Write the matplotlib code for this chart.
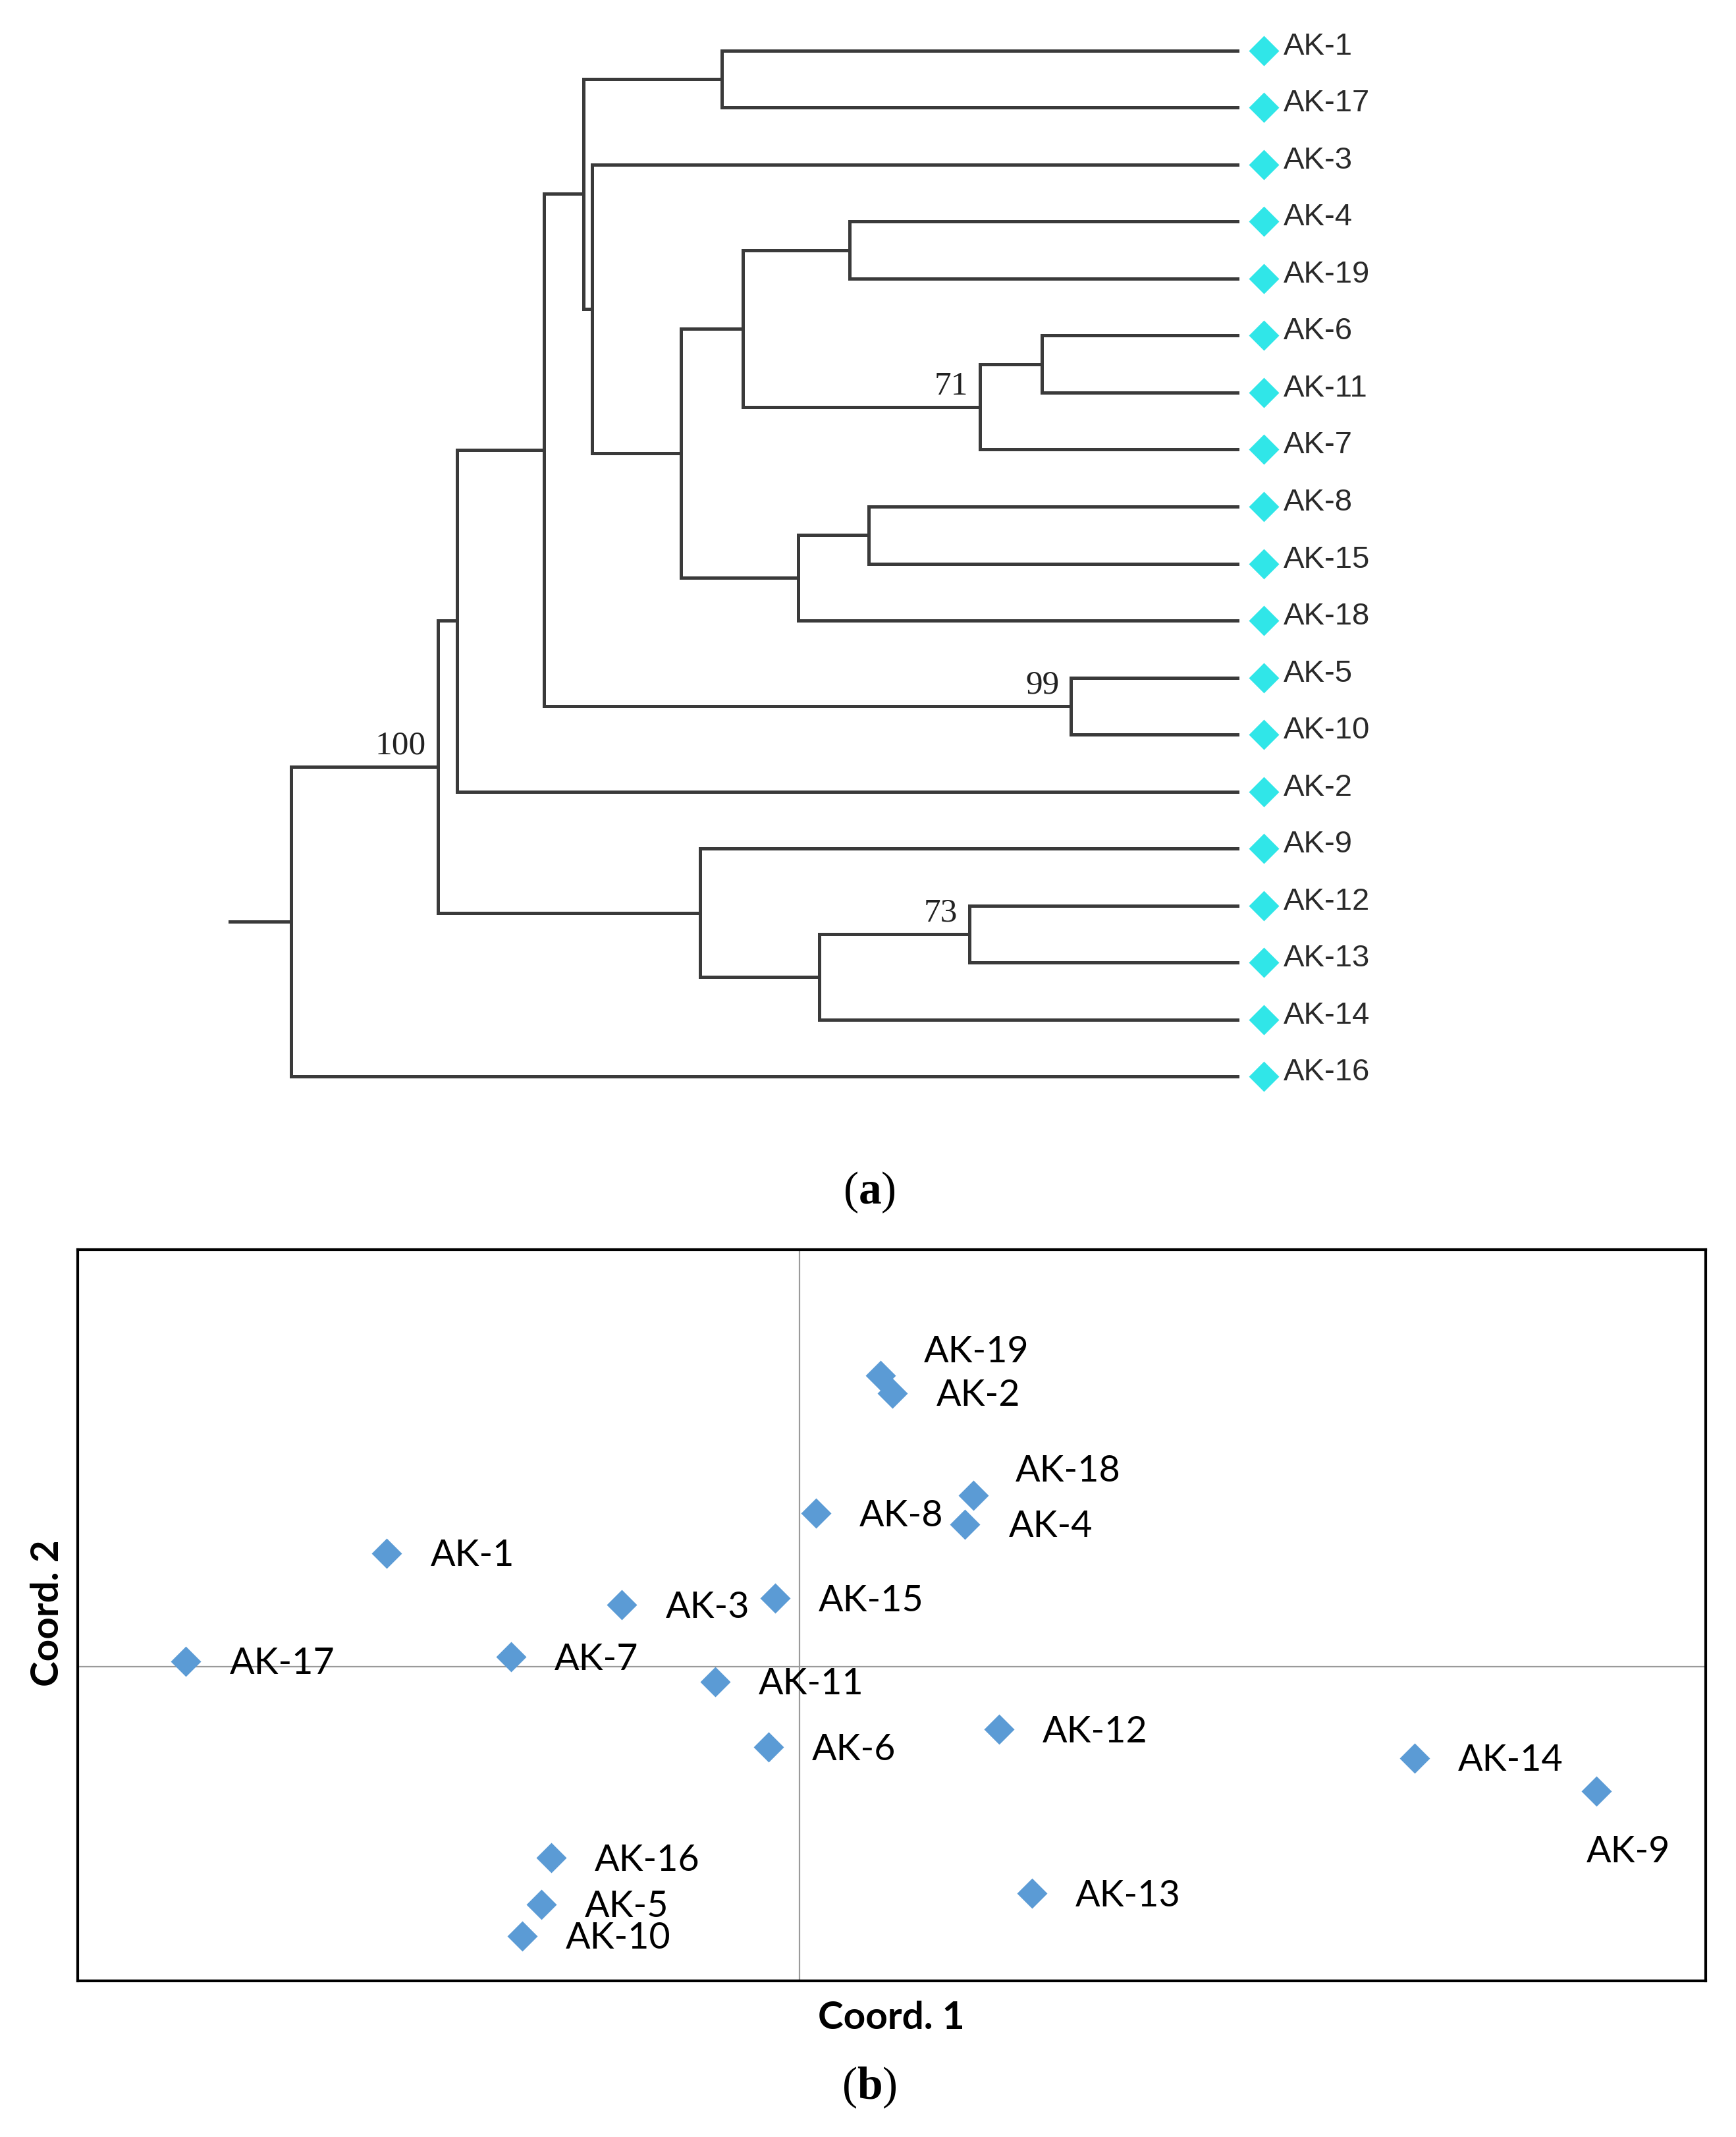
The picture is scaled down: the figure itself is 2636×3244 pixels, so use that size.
import matplotlib
matplotlib.use('Agg')
from matplotlib import pyplot as plt
from matplotlib import transforms

plt.rcParams['mathtext.fontset'] = 'custom'
plt.rcParams['mathtext.rm'] = 'Liberation Serif'
plt.rcParams['mathtext.bf'] = 'Liberation Serif:bold'

# (a) dendrogram: leaf order top to bottom, then internal nodes (depth 0 = root, 1 = tips)
leaves = ['AK-1', 'AK-17', 'AK-3', 'AK-4', 'AK-19', 'AK-6', 'AK-11', 'AK-7', 'AK-8',
          'AK-15', 'AK-18', 'AK-5', 'AK-10', 'AK-2', 'AK-9', 'AK-12', 'AK-13', 'AK-14', 'AK-16']
node_depth = {
    'root': 0.0, 'nA': 0.155, 'nB': 0.175, 'nC': 0.432, 'nD': 0.267, 'nE': 0.309,
    'nF': 0.824, 'nG': 0.455, 'nH': 0.318, 'nI': 0.412, 'nJ': 0.477, 'nK': 0.536,
    'nL': 0.590, 'nM': 0.728, 'nN': 0.793, 'nO': 0.610, 'nP': 0.558, 'nQ': 0.717,
}
node_children = {
    'root': ['nA', 'AK-16'], 'nA': ['nB', 'nC'], 'nB': ['nD', 'AK-2'],
    'nD': ['nE', 'nF'], 'nF': ['AK-5', 'AK-10'], 'nE': ['nG', 'nH'],
    'nG': ['AK-1', 'AK-17'], 'nH': ['AK-3', 'nI'], 'nI': ['nJ', 'nK'],
    'nJ': ['nL', 'nM'], 'nL': ['AK-4', 'AK-19'], 'nM': ['nN', 'AK-7'],
    'nN': ['AK-6', 'AK-11'], 'nK': ['nO', 'AK-18'], 'nO': ['AK-8', 'AK-15'],
    'nC': ['AK-9', 'nP'], 'nP': ['nQ', 'AK-14'], 'nQ': ['AK-12', 'AK-13'],
}
bootstrap = {'nA': 100, 'nM': 71, 'nF': 99, 'nQ': 73}
root_stub = -0.065

# (b) PCoA coordinates
pcoa_names = ['AK-19', 'AK-2', 'AK-18', 'AK-8', 'AK-4', 'AK-1', 'AK-3', 'AK-15', 'AK-17', 'AK-7',
              'AK-11', 'AK-6', 'AK-12', 'AK-14', 'AK-9', 'AK-16', 'AK-5', 'AK-10', 'AK-13']
coord1 = [0.59, 0.68, 1.27, 0.12, 1.21, -3.02, -1.30, -0.18, -4.49, -2.11,
          -0.62, -0.23, 1.46, 4.50, 5.83, -1.82, -1.89, -2.03, 1.70]
coord2 = [2.13, 2.00, 1.25, 1.12, 1.04, 0.83, 0.45, 0.50, 0.04, 0.07,
          -0.11, -0.59, -0.46, -0.67, -0.91, -1.40, -1.74, -1.97, -1.66]

fig = plt.figure(figsize=(26.36, 32.44), dpi=100)

# ---- tree ----
ax = fig.add_axes([0.0, 0.469, 1.0, 0.531])
ax.set_xlim(-0.308, 1.527)
ax.set_ylim(19.02, -0.887)
ax.axis('off')

tree_col = '#3a3a3a'
ypos = {name: i for i, name in enumerate(leaves)}


def node_y(n):
    if n in ypos:
        return ypos[n]
    ys = [node_y(c) for c in node_children[n]]
    ypos[n] = sum(ys) / len(ys)
    return ypos[n]


def depth(n):
    return node_depth.get(n, 1.0)


node_y('root')
for n, kids in node_children.items():
    x = node_depth[n]
    ys = [ypos[c] for c in kids]
    ax.plot([x, x], [min(ys), max(ys)], color=tree_col, lw=3.6, solid_capstyle='projecting')
    for c in kids:
        ax.plot([x, depth(c)], [ypos[c], ypos[c]], color=tree_col, lw=3.6,
                solid_capstyle='projecting')
ax.plot([root_stub, 0.0], [ypos['root'], ypos['root']], color=tree_col, lw=3.6)

for n, val in bootstrap.items():
    ax.annotate(str(val), (node_depth[n], ypos[n]), xytext=(-18, 8),
                textcoords='offset pixels', ha='right', va='bottom',
                fontsize=37, family='Liberation Serif', color='#222222')

tip_x = [1.0] * len(leaves)
tip_y = [ypos[l] for l in leaves]
mk_trans = transforms.offset_copy(ax.transData, fig=fig, x=40, y=0, units='dots')
ax.plot(tip_x, tip_y, 'D', ms=23, color='#30e6e8', mec='none', transform=mk_trans)
for l in leaves:
    ax.annotate(l, (1.0, ypos[l]), xytext=(70, 6), textcoords='offset pixels',
                ha='left', va='center', fontsize=34, family='Liberation Sans',
                color='#2a2a2a')

fig.text(0.5008, 0.442, r'($\mathbf{a}$)', ha='center', va='center', fontsize=50,
         family='Liberation Serif')

# ---- PCoA scatter ----
ax2 = fig.add_axes([0.0449, 0.0730, 0.9378, 0.3423])
ax2.set_xlim(-5.28, 6.63)
ax2.set_ylim(-2.30, 3.05)
ax2.axhline(0, color='#9a9a9a', lw=1.6, zorder=1)
ax2.axvline(0, color='#9a9a9a', lw=1.6, zorder=1)
ax2.plot(coord1, coord2, 'D', ms=23, color='#5b9bd5', mec='none', ls='none', zorder=3)
ax2.set_xticks([])
ax2.set_yticks([])
for sp in ax2.spines.values():
    sp.set_linewidth(3)
    sp.set_color('black')

label_shift = {'AK-19': (66, 35), 'AK-18': (64, 37), 'AK-9': (-16, -93)}
for name, x, y in zip(pcoa_names, coord1, coord2):
    dx, dy = label_shift.get(name, (66, -4))
    ax2.annotate(name, (x, y), xytext=(dx, dy), textcoords='offset pixels',
                 ha='left', va='center', fontsize=40, family='Lato', color='black')

ax2.text(0.4996, -0.0505, 'Coord. 1', transform=ax2.transAxes, ha='center', va='center',
         fontsize=42, fontweight='bold', family='Lato')
ax2.text(-0.0185, 0.503, 'Coord. 2', transform=ax2.transAxes, ha='center', va='center',
         rotation=90, fontsize=42, fontweight='bold', family='Lato')

fig.text(0.5008, 0.023, r'($\mathbf{b}$)', ha='center', va='center', fontsize=50,
         family='Liberation Serif')

fig.savefig('out.png', dpi=100, facecolor='white')
